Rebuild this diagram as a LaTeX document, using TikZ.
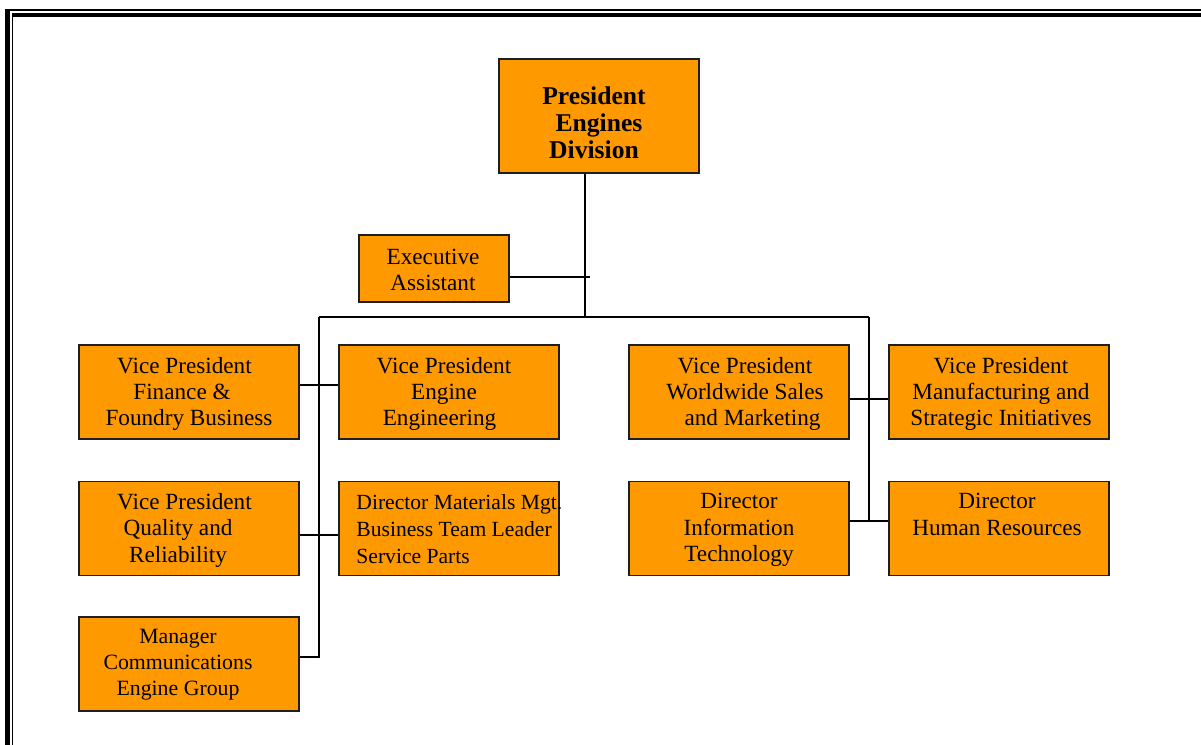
\documentclass[tikz,border=0pt]{standalone}
\usepackage{fontspec}
\setmainfont{Liberation Serif}
\definecolor{boxfill}{RGB}{255,153,0}
\definecolor{boxline}{RGB}{30,30,30}
% fixed trailing room at a line end, kept through the line break
\newcommand{\tailgap}[1]{\hspace*{#1}\mbox{}}
\begin{document}
\begin{tikzpicture}[x=1pt,y=-1pt,
  orgbox/.style={draw=boxline, fill=boxfill, line width=1.5pt, inner sep=0pt,
                 minimum width=220pt, minimum height=94pt},
  lbl/.style={inner sep=0pt, align=center, anchor=north,
              font=\fontsize{23.2}{26.3}\selectfont},
  lblsmall/.style={lbl, font=\fontsize{21.8}{26}\selectfont},
  link/.style={draw=black, line width=1.7pt}]
\useasboundingbox (0,0) rectangle (1201,744);

% page frame (only the top and left edges fall inside the page)
\draw[line width=5pt] (7.5,9.3) -- (7.5,760);
\draw[line width=1.6pt] (5,10.1) -- (1220,10.1);
\draw[line width=3.4pt] (11.6,15) -- (1220,15);
\draw[line width=1.6pt] (12.5,13.3) -- (12.5,760);

% boxes
\node[orgbox, minimum width=200pt, minimum height=114pt] (pres) at (599,116) {};
\node[orgbox, minimum width=150pt, minimum height=67pt] (exec) at (434,268.5) {};
\node[orgbox] (fin) at (189,392) {};
\node[orgbox] (eng) at (449,392) {};
\node[orgbox] (ww)  at (739,392) {};
\node[orgbox] (mfg) at (999,392) {};
\node[orgbox] (qual) at (189,528.5) {};
\node[orgbox] (mat)  at (449,528.5) {};
\node[orgbox] (it)   at (739,528.5) {};
\node[orgbox] (hr)   at (999,528.5) {};
\node[orgbox] (mgr)  at (189,664) {};

% labels
\node[lbl, font=\fontsize{25.6}{27}\selectfont\bfseries] (presT)
  at ([xshift=-5pt,yshift=-28.5pt]pres.north) {President\\\hspace*{10pt}Engines\\Division};
\node[lbl] (execT) at ([xshift=-1pt,yshift=-14.5pt]exec.north) {Executive\\Assistant};
\node[lbl] (finT) at ([yshift=-12.5pt]fin.north)
  {Vice President\tailgap{9pt}\\Finance \&\tailgap{14pt}\\Foundry Business};
\node[lbl] (engT) at ([xshift=-5pt,yshift=-12.5pt]eng.north)
  {Vice President\\Engine\\Engineering\tailgap{9pt}};
\node[lbl] (wwT) at ([xshift=6pt,yshift=-12.5pt]ww.north)
  {Vice President\\Worldwide Sales\\\hspace*{15pt}and Marketing};
\node[lbl] (mfgT) at ([xshift=2pt,yshift=-12.5pt]mfg.north)
  {Vice President\\Manufacturing and\\Strategic Initiatives};
\node[lbl] (qualT) at ([yshift=-12.5pt]qual.north)
  {Vice President\tailgap{9pt}\\Quality and\tailgap{22pt}\\Reliability\tailgap{22pt}};
\node[lblsmall, align=left, anchor=north west, font=\fontsize{21.6}{27}\selectfont] (matT)
  at ([xshift=18pt,yshift=-13.5pt]mat.north west)
  {Director Materials Mgt.\\Business Team Leader\\Service Parts};
\node[lbl] (itT) at ([yshift=-12.5pt]it.north)
  {Director\\Information\\Technology};
\node[lbl] (hrT) at ([xshift=-2pt,yshift=-12.5pt]hr.north)
  {Director\\Human Resources};
\node[lblsmall] (mgrT) at ([xshift=-11pt,yshift=-12.8pt]mgr.north)
  {Manager\\Communications\\Engine Group};

% connector junctions
\coordinate (trunk) at (585,317);
\coordinate (exectip) at (590,277);
\coordinate (busL) at (319,317);
\coordinate (busR) at (869,317);
\coordinate (jl1) at (319,385);
\coordinate (jl2) at (319,535);
\coordinate (jl3) at (319,657);
\coordinate (jr1) at (869,399);
\coordinate (jr2) at (869,521);

% connectors
\draw[link] (pres.south -| trunk) -- (trunk);
\draw[link] (exec.east |- exectip) -- (exectip);
\draw[link] (busL) -- (busR);
\draw[link] (busL) -- (jl3) -- (mgr.east |- jl3);
\draw[link] (busR) -- (jr2);
\draw[link] (fin.east |- jl1) -- (eng.west |- jl1);
\draw[link] (qual.east |- jl2) -- (mat.west |- jl2);
\draw[link] (ww.east |- jr1) -- (mfg.west |- jr1);
\draw[link] (it.east |- jr2) -- (hr.west |- jr2);
\end{tikzpicture}
\end{document}
